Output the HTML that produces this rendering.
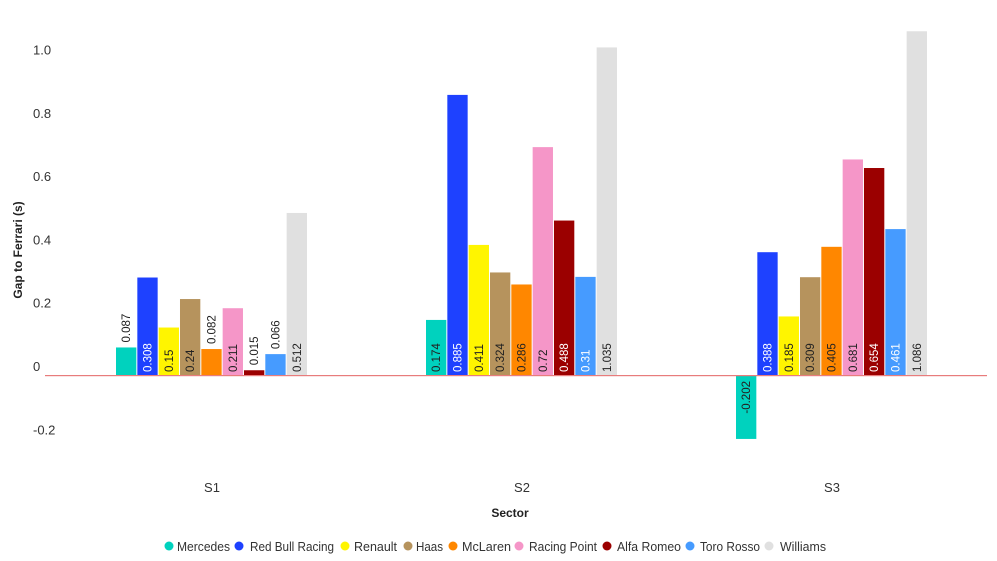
<!DOCTYPE html>
<html><head><meta charset="utf-8"><style>
html,body{margin:0;padding:0;background:#fff;}
svg{display:block;font-family:"Liberation Sans",sans-serif;}
</style></head><body>
<svg id="c" width="997" height="561" viewBox="0 0 997 561" xmlns="http://www.w3.org/2000/svg">
<g id="g"></g>
</svg>
<script>
var svg=document.getElementById('g'),NS='http://www.w3.org/2000/svg';
function el(t,a,txt){var e=document.createElementNS(NS,t);for(var k in a)e.setAttribute(k,a[k]);if(txt!=null)e.textContent=txt;svg.appendChild(e);return e;}
var Z=375,S=316.5;
var cols=['#00d2be','#1e41ff','#fff500','#b6935d','#ff8700','#f596c8','#9b0000','#469bff','#e0e0e0'];
var tc=['#222','#fff','#222','#222','#222','#222','#fff','#fff','#222'];
var names=['Mercedes','Red Bull Racing','Renault','Haas','McLaren','Racing Point','Alfa Romeo','Toro Rosso','Williams'];
var data=[[0.087,0.308,0.15,0.24,0.082,0.211,0.015,0.066,0.512],
[0.174,0.885,0.411,0.324,0.286,0.72,0.488,0.31,1.035],
[-0.202,0.388,0.185,0.309,0.405,0.681,0.654,0.461,1.086]];
var ticks=[1.0,0.8,0.6,0.4,0.2,0,-0.2];
ticks.forEach(function(v){el('text',{x:33,y:Z-S*v-9+5,'font-size':13,fill:'#333'},v==0?'0':v.toFixed(1));});
var starts=[116,426,736],bw=21.33;
data.forEach(function(g,gi){
 g.forEach(function(v,i){
  var x=starts[gi]+i*bw,h=Math.abs(v)*S,y=v>=0?Z-h:Z;
  el('rect',{x:x,y:y,width:bw-1,height:h,fill:cols[i]});
  var cx=x+(bw-1)/2+4,lab=String(v);
  if(v<0){el('text',{x:0,y:0,transform:'translate('+cx+','+(Z+6)+') rotate(-90)','text-anchor':'end','font-size':11.5,fill:tc[i]},lab);}
  else if(h>42){el('text',{x:0,y:0,transform:'translate('+cx+','+(Z-3)+') rotate(-90)','text-anchor':'start','font-size':11.5,fill:tc[i]},lab);}
  else{el('text',{x:0,y:0,transform:'translate('+cx+','+(y-5)+') rotate(-90)','text-anchor':'start','font-size':11.5,fill:'#222'},lab);}
 });
});
el('rect',{x:45,width:942,y:Z,height:1.2,fill:'#e87c7c'});
['S1','S2','S3'].forEach(function(s,i){el('text',{x:212+i*310,y:492,'text-anchor':'middle','font-size':13,fill:'#333'},s);});
el('text',{x:510,y:517,'text-anchor':'middle','font-size':12,'font-weight':'bold',fill:'#222'},'Sector');
el('text',{x:0,y:0,transform:'translate(22,250) rotate(-90)','text-anchor':'middle','font-size':12,'font-weight':'bold',fill:'#222'},'Gap to Ferrari (s)');
var lx=[169,239,345,408,453,519,607,690,769];
var tx=[177,250,354,416,462,529,617,700,780];
var tw=[53,84,43,27,49,68,64,60,46];
names.forEach(function(n,i){el('circle',{cx:lx[i],cy:546,r:4.5,fill:cols[i]});el('text',{x:tx[i],y:551,'font-size':13,fill:'#333',textLength:tw[i],lengthAdjust:'spacingAndGlyphs'},n);});
</script>
</body></html>
